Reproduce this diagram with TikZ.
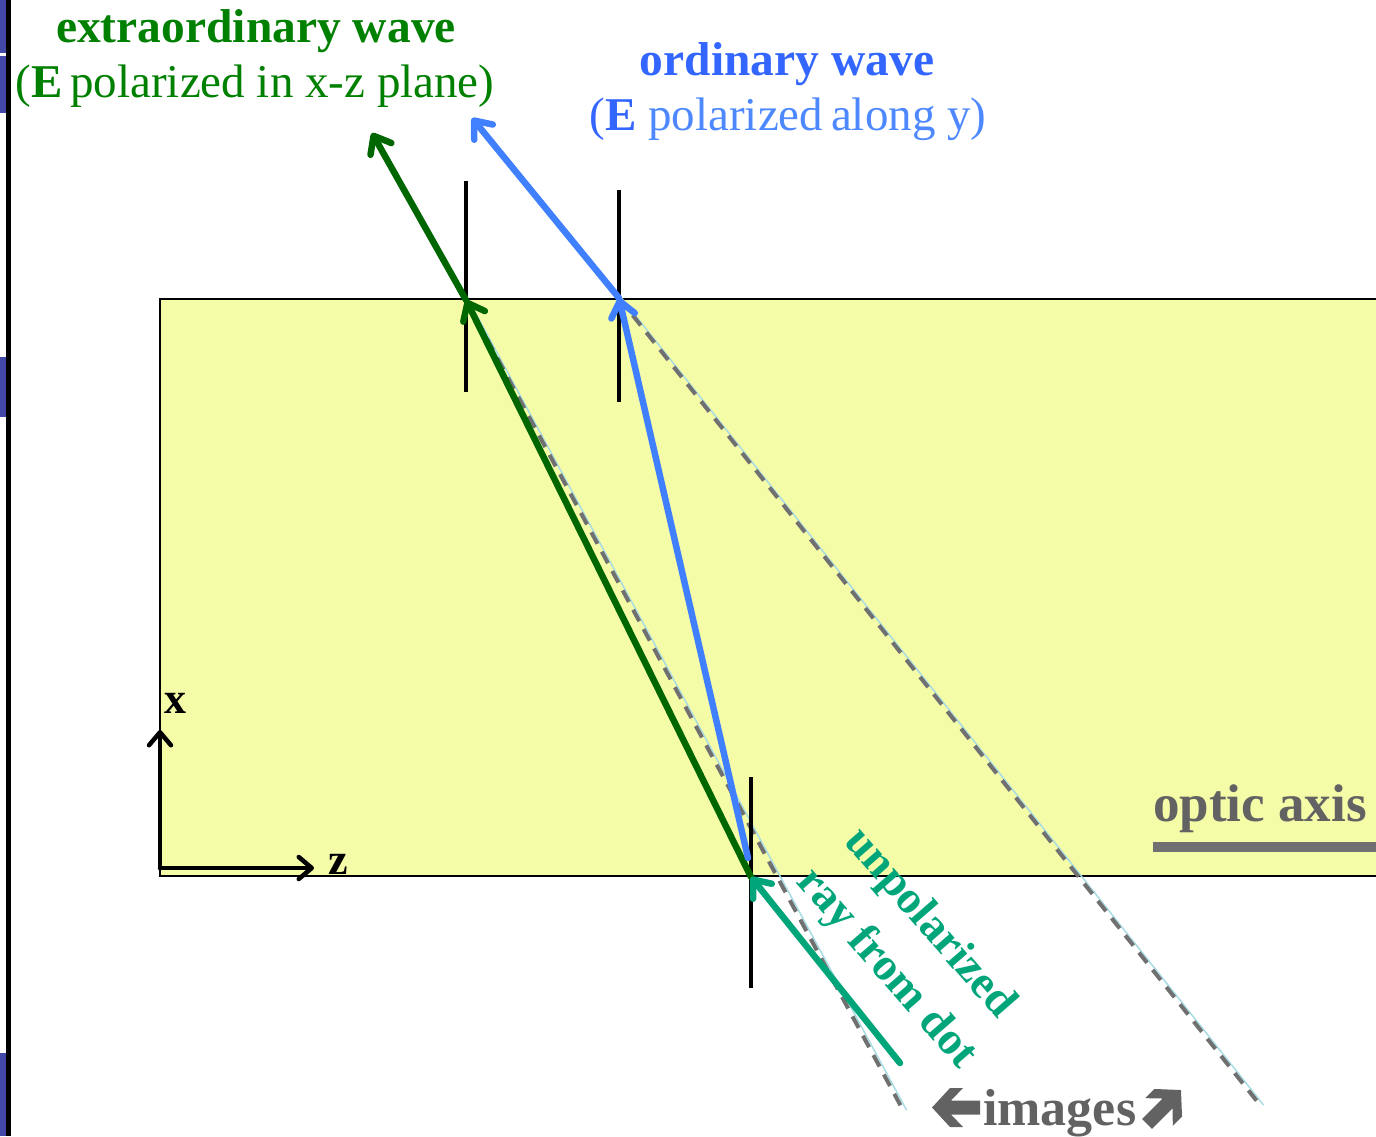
\documentclass[tikz,border=0pt]{standalone}
\usepackage{fontspec}
\setmainfont{Liberation Serif}
\usetikzlibrary{arrows.meta}
\definecolor{crys}{HTML}{F5FCA8}
\definecolor{egreen}{HTML}{008000}
\definecolor{eray}{HTML}{006600}
\definecolor{oblue}{HTML}{3366FF}
\definecolor{obluel}{HTML}{4D88FF}
\definecolor{oray}{HTML}{4080FF}
\definecolor{teal}{HTML}{00A57A}
\definecolor{grayt}{HTML}{626262}
\definecolor{grayl}{HTML}{707070}
\definecolor{thinb}{HTML}{A8DCE4}
\definecolor{slidebar}{HTML}{4347A8}
\newcommand\fsz[1]{\fontsize{#1}{#1}\selectfont}
\begin{document}
\begin{tikzpicture}[x=1pt,y=-1pt,
  barb/.style={-{Straight Barb[length=15pt,width=24pt,line cap=round,line join=round]}},
  ray/.style={line width=6.5pt,line cap=round,barb},
  normal/.style={line width=4.5pt,black},
  image/.style={line width=4pt,grayl,dash pattern=on 13pt off 9pt},
  thinline/.style={line width=1.5pt,thinb},
  axis/.style={line width=4.5pt,black,line cap=round,-{Straight Barb[length=13pt,width=22pt,line cap=round,line join=round]}},
  lbl/.style={inner sep=0pt,font=\bfseries}]
\useasboundingbox (0,0) rectangle (1376,1136);
\clip (0,0) rectangle (1376,1136);
% slide residue at the left edge
\fill[slidebar] (0,0) rectangle (6,53);
\fill[slidebar] (0,56) rectangle (6,113);
\fill[slidebar] (0,357) rectangle (6,417);
\fill[slidebar] (0,1053) rectangle (6,1136);
\draw[line width=4.5pt,black] (8.5,0) -- (8.5,1136);
% crystal
\draw[fill=crys,line width=2.2pt] (160,299) rectangle (1400,876);
% points
\coordinate (A) at (751,877);
\coordinate (Ao) at (748,858);
\coordinate (G) at (466,300);
\coordinate (B) at (619,298);
\coordinate (Gout) at (372,133);
\coordinate (Bout) at (472,118);
\coordinate (In) at (900,1063);
\coordinate (Gim) at (903,1110);
\coordinate (Bim) at (1260,1105);
% image lines
\draw[thinline] ([xshift=2.5pt]G) -- ([xshift=3.5pt]Gim);
\draw[thinline] ([xshift=2.5pt]B) -- ([xshift=3.5pt]Bim);
\draw[image] (G) -- (Gim);
\draw[image] (B) -- (Bim);
% normals
\coordinate (N1a) at (466,181); \coordinate (N1b) at (466,392);
\coordinate (N2a) at (619,190); \coordinate (N2b) at (619,402);
\coordinate (N3a) at (751,777); \coordinate (N3b) at (751,988);
\draw[normal] (N1a) -- (N1b);
\draw[normal] (N2a) -- (N2b);
\draw[normal] (N3a) -- (N3b);
% rays
\draw[ray,eray] (A) -- (G);
\draw[ray,eray] (G) -- (Gout);
\draw[ray,oray] (Ao) -- (B);
\draw[ray,oray] (B) -- (Bout);
\draw[ray,teal] (In) -- (A);
% axes
\coordinate (O) at (160,868);
\coordinate (Xt) at (160,730);
\coordinate (Zt) at (314,868);
\draw[axis] (O) -- (Xt);
\draw[axis] (O) -- (Zt);
\node[lbl] (xl) at (175,703) {\fsz{44}x};
\node[lbl] (zl) at (338,864) {\fsz{44}z};
% optic axis
\coordinate (OA1) at (1153,847);
\coordinate (OA2) at (1380,847);
\draw[line width=10pt,grayl] (OA1) -- (OA2);
\node[lbl,anchor=base west,text=grayt] (oal) at (1153,821) {\fsz{53}optic axis};
% labels
\node[lbl,anchor=base,text=egreen] (e1) at (256,42) {\fsz{47.5}extraordinary wave};
\node[inner sep=0pt,anchor=base,text=egreen] (e2) at (255,97) {\fsz{47}(\textbf{E}\,polarized in x-z plane)};
\node[lbl,anchor=base,text=oblue] (o1) at (787,75) {\fsz{47.5}ordinary wave};
\node[inner sep=0pt,anchor=base,text=obluel] (o2) at (788,130) {\fsz{47}\textcolor{oblue}{(\textbf{E}} polarized\,along y)};
\node[lbl,text=teal,rotate=-49] (u1) at (929,924) {\fsz{46}unpolarized};
\node[lbl,text=teal,rotate=-49] (u2) at (886,969) {\fsz{46}ray from dot};
\node[lbl,anchor=base west,text=grayt] (im) at (983,1125) {\fsz{52}images};
% heavy arrows around "images"
\begin{scope}[shift={(956,1107.5)}]
\fill[grayt] (-24,0) -- (-6,-19.5) -- (7,-19.5) -- (-5,-7) -- (24,-7) -- (24,7) -- (-5,7) -- (7,19.5) -- (-6,19.5) -- cycle;
\end{scope}
\begin{scope}[shift={(1164,1107)},rotate=-135]
\fill[grayt] (-24,0) -- (-6,-19.5) -- (7,-19.5) -- (-5,-7) -- (24,-7) -- (24,7) -- (-5,7) -- (7,19.5) -- (-6,19.5) -- cycle;
\end{scope}
\end{tikzpicture}
\end{document}
